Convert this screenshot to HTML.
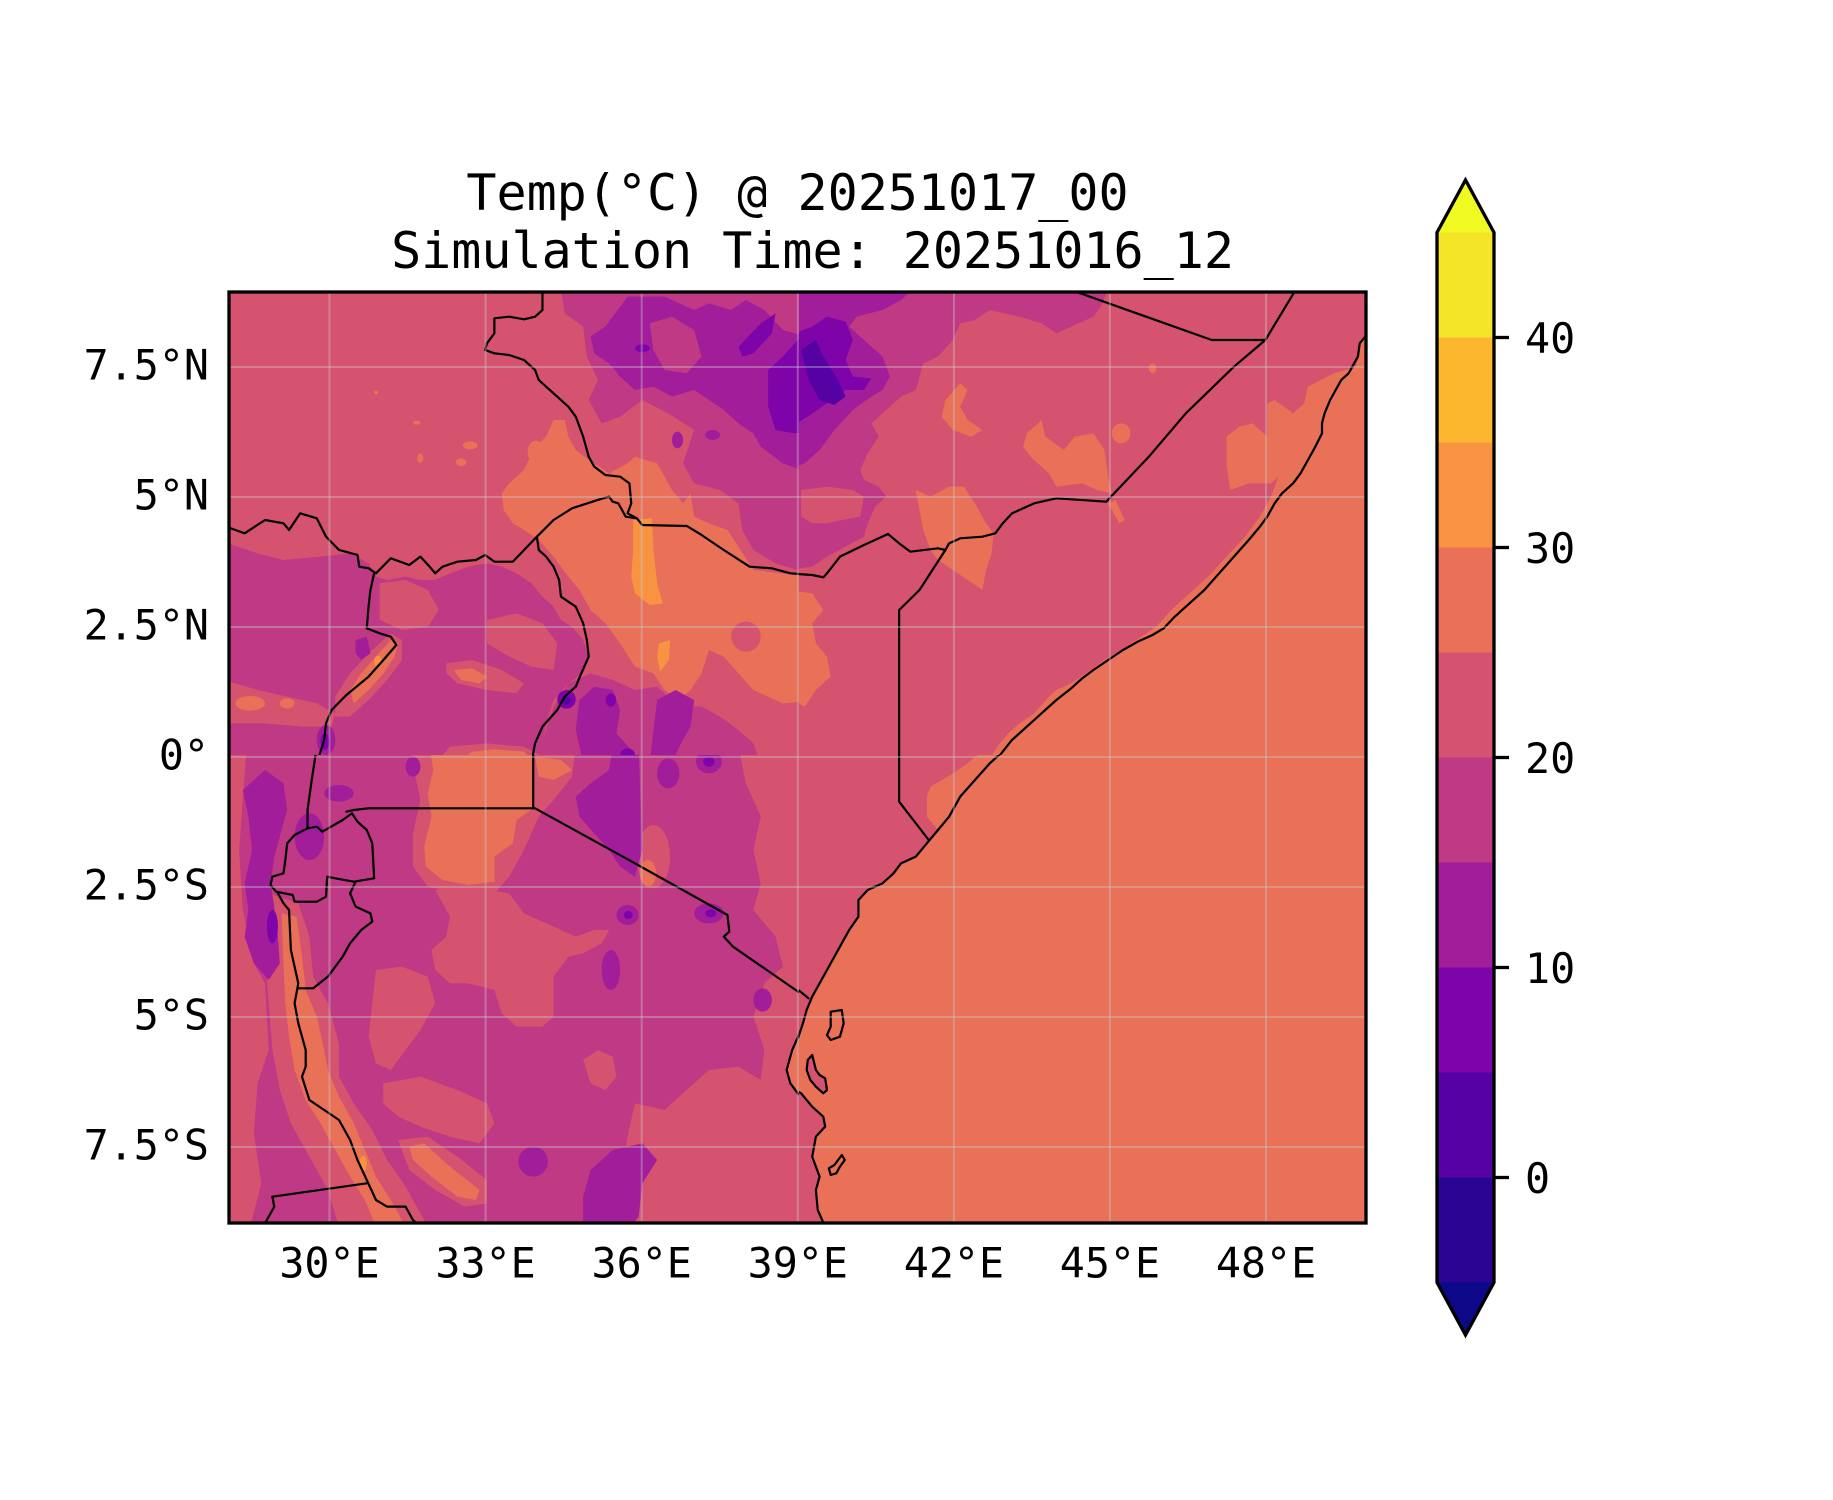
<!DOCTYPE html>
<html>
<head>
<meta charset="utf-8">
<style>
html,body{margin:0;padding:0;background:#fff;}
svg{display:block;}
.p{fill:#d5536f}.u{fill:#bf3984}.v{fill:#a21d9a}.w{fill:#7e03a8}.x{fill:#5601a4}.o{fill:#e97158}.y{fill:#f89441}
.ln{fill:none;stroke:#000;stroke-width:2.2;vector-effect:non-scaling-stroke;stroke-linejoin:round;stroke-linecap:round}
.t{font-family:"DejaVu Sans Mono","Liberation Mono",monospace;fill:#000}
</style>
</head>
<body>
<svg width="1833" height="1500" viewBox="0 0 1833 1500" xmlns="http://www.w3.org/2000/svg">
<defs>
<clipPath id="c1"><rect x="229" y="292" width="570" height="463"/></clipPath>
<clipPath id="c2"><rect x="799" y="292" width="567" height="463"/></clipPath>
<clipPath id="c3"><rect x="229" y="755" width="570" height="468"/></clipPath>
<clipPath id="c4"><rect x="799" y="755" width="567" height="468"/></clipPath>
</defs>

<!-- Q1 -->
<g clip-path="url(#c1)"><g transform="translate(228 290) scale(0.36996 0.33333)">
<rect class="p" x="-10" y="-10" width="1620" height="1440"/>
<path class="u" d="M900,0 L910,70 960,110 970,200 1000,270 975,330 1010,400 1060,380 1120,330 1190,370 1260,420 1230,520 1260,580 1330,600 1380,640 1390,720 1420,780 1480,820 1568,850 1600,850 1600,0Z"/>
<path class="v" d="M980,140 L1020,110 1060,50 1080,20 1180,20 1260,60 1300,40 1360,60 1400,30 1450,60 1500,120 1600,150 1600,560 1500,520 1440,470 1420,430 1380,400 1340,360 1300,330 1260,300 1200,320 1150,290 1100,300 1060,260 1030,220 990,190Z"/>
<path class="u" d="M1140,100 L1200,80 1260,120 1280,200 1240,250 1180,240 1150,180Z"/>
<path class="w" d="M1460,240 L1500,200 1540,150 1600,140 1600,420 1530,430 1480,420 1460,350Z"/>
<path class="w" d="M1380,170 L1440,100 1480,70 1470,130 1420,190 1390,200Z"/>
<ellipse class="w" cx="1120" cy="175" rx="20" ry="12"/>
<ellipse class="v" cx="1215" cy="450" rx="15" ry="25"/>
<ellipse class="v" cx="1310" cy="435" rx="20" ry="15"/>
<path class="o" d="M740,610 L760,580 800,540 830,470 860,440 880,390 910,390 920,440 940,480 990,520 1030,550 1080,520 1100,500 1160,520 1180,560 1200,600 1230,640 1250,610 1260,680 1300,700 1350,720 1420,840 1568,860 1600,860 1600,1230 1500,1240 1420,1200 1380,1150 1340,1100 1300,1080 1280,1150 1250,1200 1220,1230 1180,1200 1150,1150 1100,1130 1060,1060 1020,1000 980,960 950,900 920,860 880,800 840,750 800,720 770,700 745,660Z"/>
<ellipse class="p" cx="1400" cy="1040" rx="40" ry="45"/>
<path class="y" d="M1095,690 L1145,685 1150,780 1160,880 1175,940 1140,945 1100,910 1090,860 1095,780Z"/>
<path class="y" d="M1165,1060 L1195,1050 1192,1110 1168,1145 1160,1100Z"/>
<ellipse class="o" cx="400" cy="307" rx="6" ry="6"/>
<ellipse class="o" cx="510" cy="398" rx="10" ry="6"/>
<ellipse class="o" cx="655" cy="466" rx="20" ry="12"/>
<ellipse class="o" cx="520" cy="505" rx="8" ry="14"/>
<ellipse class="o" cx="630" cy="517" rx="14" ry="12"/>
<ellipse class="o" cx="832" cy="487" rx="22" ry="35"/>
<path class="u" d="M0,760 L80,790 150,810 250,800 330,790 380,820 400,860 430,870 480,860 520,870 560,870 600,850 650,830 700,820 740,830 780,850 820,880 850,920 880,950 900,990 930,1010 960,1050 975,1100 960,1150 920,1180 880,1230 860,1300 840,1420 -10,1420Z"/>
<path class="p" d="M410,880 L480,870 540,900 570,960 540,1010 470,1020 410,990Z"/>
<path class="p" d="M700,990 L780,970 850,1000 890,1060 880,1140 820,1130 760,1100 700,1060Z"/>
<path class="p" d="M590,1120 L660,1110 740,1140 800,1180 780,1210 700,1200 620,1180 590,1150Z"/>
<path class="o" d="M610,1140 L660,1135 700,1160 680,1180 630,1170Z"/>
<path class="p" d="M-10,1170 L80,1200 160,1220 240,1240 290,1270 280,1310 200,1310 100,1300 -10,1300Z"/>
<ellipse class="o" cx="60" cy="1240" rx="40" ry="22"/>
<ellipse class="o" cx="160" cy="1240" rx="20" ry="15"/>
<path class="p" d="M290,1220 L330,1150 380,1090 440,1030 470,1050 470,1110 430,1170 380,1230 330,1280 290,1280Z"/>
<path class="o" d="M330,1200 L360,1150 400,1100 440,1050 460,1060 450,1100 420,1150 380,1200 340,1240Z"/>
<ellipse class="y" cx="405" cy="1115" rx="10" ry="18"/>
<path class="v" d="M345,1050 L375,1040 385,1090 360,1110 345,1090Z"/>
<ellipse class="v" cx="265" cy="1350" rx="25" ry="45"/>
<ellipse class="w" cx="262" cy="1355" rx="12" ry="25"/>
<path class="u" d="M880,1250 L920,1180 980,1150 1040,1170 1100,1200 1160,1190 1220,1250 1280,1250 1330,1280 1380,1320 1420,1360 1440,1420 830,1420Z"/>
<path class="v" d="M950,1230 L990,1190 1040,1200 1060,1260 1050,1330 1090,1380 1100,1420 960,1420 940,1320Z"/>
<path class="v" d="M1160,1230 L1210,1200 1260,1230 1250,1310 1220,1370 1200,1420 1140,1420 1150,1320Z"/>
<ellipse class="w" cx="915" cy="1228" rx="25" ry="28"/>
<ellipse class="x" cx="915" cy="1232" rx="10" ry="12"/>
<ellipse class="w" cx="1035" cy="1230" rx="14" ry="20"/>
<ellipse class="w" cx="1080" cy="1395" rx="20" ry="20"/>
<path class="p" d="M560,1420 L600,1370 700,1360 800,1370 850,1400 850,1420Z"/>
<path class="o" d="M620,1420 L660,1385 720,1378 800,1385 830,1420Z"/>
<path class="ln" d="M850,0 L850,60 830,80 800,88 760,80 720,85 720,130 700,160 695,180 720,190 760,195 800,210 830,240 840,270 860,290 890,320 920,350 940,380 960,440 975,500 990,530 1020,555 1060,560 1085,580 1090,640 1080,670 1105,685 1120,705 1240,708 1280,735 1340,780 1410,830 1470,835 1520,850 1600,856"/>
<path class="ln" d="M835,740 L880,690 930,655 1005,628 1030,620 1040,635 1055,640 1075,680 1105,685"/>
<path class="ln" d="M-10,708 L20,720 45,730 100,690 150,700 165,720 195,670 240,685 265,740 300,780 350,795 355,830 380,835 400,850 440,805 490,825 520,800 545,830 560,850 580,830 620,815 670,810 695,795 720,815 770,815 835,740"/>
<path class="ln" d="M395,850 L385,900 380,950 375,1015 410,1030 440,1040 455,1065 420,1110 380,1160 320,1215 280,1260 265,1300 260,1350 240,1420"/>
<path class="ln" d="M835,740 L840,780 860,800 880,830 895,870 900,920 940,950 960,1000 970,1050 975,1100 955,1150 940,1190 910,1220 890,1260 850,1310 830,1360 820,1420"/>
</g></g>

<!-- Q2 -->
<g clip-path="url(#c2)"><g transform="translate(790 290) scale(0.36996 0.33333)">
<rect class="p" x="-10" y="-10" width="1620" height="1440"/>
<path class="u" d="M-10,0 L860,0 840,50 820,80 780,100 720,130 680,100 620,80 580,70 540,60 500,90 460,100 440,150 400,200 360,220 350,260 340,300 300,320 260,360 220,400 240,440 210,490 190,540 200,570 240,590 260,620 230,650 210,700 200,740 150,770 100,800 60,830 -10,840Z"/>
<path class="p" d="M30,600 L100,590 170,600 200,620 190,680 140,690 100,700 60,700 30,680Z"/>
<path class="v" d="M-10,0 L330,0 300,30 250,60 180,80 160,110 200,150 250,200 270,260 250,300 220,320 170,360 120,420 80,480 40,520 -10,540Z"/>
<path class="w" d="M-10,140 L60,110 100,80 150,95 170,150 150,210 170,260 220,265 200,300 150,300 100,340 60,370 20,400 -10,400Z"/>
<path class="x" d="M30,180 L70,150 90,200 130,270 150,320 120,345 80,330 50,270Z"/>
<path class="o" d="M420,330 L460,280 480,300 460,350 480,390 520,420 490,440 440,420 410,380Z"/>
<path class="o" d="M640,430 L680,390 690,440 740,480 770,440 820,430 850,480 860,560 870,610 830,600 790,580 720,590 700,550 650,500 630,470Z"/>
<ellipse class="o" cx="895" cy="430" rx="25" ry="30"/>
<ellipse class="o" cx="980" cy="235" rx="10" ry="15"/>
<path class="o" d="M340,600 L380,620 430,590 470,590 500,640 530,700 550,730 545,790 530,840 520,900 480,870 440,840 400,810 380,780 360,720 350,660Z"/>
<path class="o" d="M-10,900 L60,910 90,960 60,1000 70,1060 100,1100 110,1160 70,1200 40,1250 -10,1220Z"/>
<path class="o" d="M860,640 L880,630 905,690 890,700Z"/>
<path class="o" d="M1600,125 L1600,1420 L535,1420 560,1370 590,1330 620,1300 660,1270 700,1220 720,1200 760,1180 800,1150 850,1110 880,1090 950,1040 990,1010 1030,960 1080,910 1130,860 1180,800 1230,740 1270,680 1300,620 1320,560 1300,580 1240,580 1190,600 1180,520 1180,440 1215,410 1250,400 1290,440 1290,340 1310,330 1360,370 1390,340 1400,290 1470,250 1530,230 1545,150 1560,130Z"/>
<path class="ln" d="M1600,110 L1555,140 1540,160 1535,200 1525,220 1510,250 1490,270 1475,300 1460,330 1445,370 1438,400 1438,430 1420,470 1400,510 1380,550 1360,580 1330,610 1310,640 1290,680 1270,710 1240,750 1200,800 1160,850 1120,900 1080,940 1040,980 1010,1015 980,1035 940,1055 900,1080 860,1110 820,1140 790,1165 760,1195 720,1230 680,1270 640,1310 600,1350 550,1420"/>
<path class="ln" d="M-10,850 L60,855 90,862 100,850 135,800 200,765 265,732 295,760 325,785 400,775 420,780"/>
<path class="ln" d="M420,780 L430,760 460,745 520,740 555,730 575,700 600,670 660,640 720,625 855,635 970,500 1070,370 1200,230 1285,150 1372,-10"/>
<path class="ln" d="M735,-10 L760,0 1140,150 1285,150"/>
<path class="ln" d="M420,780 L350,900 295,960 295,1420"/>
</g></g>

<!-- Q3 -->
<g clip-path="url(#c3)"><g transform="translate(228 750) scale(0.36996 0.33333)">
<rect class="u" x="-10" y="-10" width="1620" height="1450"/>
<path class="p" d="M-10,0 L50,0 40,150 30,300 40,480 70,640 100,700 110,900 80,1000 70,1150 90,1300 60,1430 -10,1430Z"/>
<path class="p" d="M110,430 L190,460 220,560 230,680 270,760 300,880 300,980 340,1060 390,1140 430,1230 480,1310 540,1430 300,1430 270,1320 220,1220 170,1120 140,1020 120,900 110,760 100,600Z"/>
<path class="p" d="M400,660 L470,650 540,680 560,760 520,840 480,900 440,960 400,940 380,860 390,760Z"/>
<path class="p" d="M560,420 L650,410 760,430 800,490 880,530 940,560 990,540 1030,540 1010,580 960,610 920,620 880,680 880,800 850,830 780,830 740,790 720,720 650,700 600,700 560,660 550,600 590,560 600,500Z"/>
<path class="p" d="M490,-10 L940,-10 930,80 880,150 840,200 800,300 760,380 720,430 620,430 540,410 500,350 500,250 520,150Z"/>
<path class="o" d="M545,-10 L825,-10 825,175 780,210 770,280 720,320 720,395 650,405 580,390 535,350 530,290 550,200 540,130 555,60Z"/>
<path class="o" d="M830,20 L900,30 930,60 880,90 840,80Z"/>
<path class="p" d="M420,1000 L520,980 620,1020 700,1060 720,1120 680,1180 600,1160 520,1130 460,1100 420,1060Z"/>
<path class="p" d="M460,1170 L540,1160 620,1220 700,1290 700,1360 640,1370 560,1320 490,1260Z"/>
<path class="o" d="M490,1190 L530,1180 600,1250 680,1320 670,1350 620,1340 550,1280 500,1230Z"/>
<path class="p" d="M960,930 L1000,900 1040,920 1050,980 1020,1020 980,1000Z"/>
<ellipse class="p" cx="1150" cy="320" rx="45" ry="95"/>
<ellipse class="o" cx="1135" cy="370" rx="22" ry="40"/>
<path class="p" d="M1080,1160 L1100,1060 1180,1080 1250,1010 1300,960 1380,950 1440,990 1500,1040 1620,1040 1620,1430 1080,1430 1060,1300Z"/>
<path class="p" d="M1380,-10 L1620,-10 1620,1040 1500,1040 1440,990 1450,900 1420,800 1450,700 1500,650 1480,560 1420,480 1440,400 1420,300 1440,200 1400,100Z"/>
<path class="o" d="M145,490 L185,500 200,620 210,720 240,800 260,900 270,960 300,1040 340,1120 370,1200 400,1280 440,1350 480,1430 400,1430 370,1350 330,1280 290,1200 250,1120 210,1050 180,960 165,860 155,760 150,650Z"/>
<ellipse class="y" cx="365" cy="1240" rx="10" ry="22"/>
<path class="v" d="M40,120 L100,60 150,100 160,180 140,260 125,320 115,400 125,470 135,560 140,640 110,690 70,640 45,560 55,480 45,400 65,300 55,200Z"/>
<ellipse class="w" cx="120" cy="530" rx="15" ry="50"/>
<ellipse class="v" cx="220" cy="260" rx="40" ry="70"/>
<ellipse class="v" cx="300" cy="130" rx="40" ry="25"/>
<ellipse class="v" cx="500" cy="50" rx="20" ry="30"/>
<path class="v" d="M1040,-10 L1110,-10 1115,150 1120,300 1100,380 1060,350 1030,300 990,250 950,200 940,140 980,100 1030,60Z"/>
<ellipse class="v" cx="1190" cy="70" rx="30" ry="45"/>
<ellipse class="v" cx="1300" cy="35" rx="35" ry="35"/>
<ellipse class="w" cx="1300" cy="35" rx="15" ry="15"/>
<ellipse class="v" cx="1080" cy="495" rx="30" ry="30"/>
<ellipse class="w" cx="1082" cy="495" rx="12" ry="12"/>
<ellipse class="v" cx="1300" cy="490" rx="40" ry="30"/>
<ellipse class="w" cx="1305" cy="490" rx="15" ry="12"/>
<ellipse class="v" cx="1035" cy="660" rx="25" ry="60"/>
<ellipse class="v" cx="1445" cy="750" rx="25" ry="35"/>
<ellipse class="v" cx="825" cy="1235" rx="40" ry="45"/>
<path class="v" d="M980,1260 L1040,1200 1120,1180 1160,1230 1120,1300 1110,1400 1090,1430 960,1430 960,1340Z"/>
<path class="o" d="M1568,760 L1555,790 1545,850 1525,900 1510,960 1520,1000 1540,1030 1568,1050 1620,1050 1620,760Z"/>
<path class="ln" d="M1575,750 L1568,760 1555,790 1545,850 1525,900 1510,960 1520,1000 1540,1030 1575,1055"/>
<path class="ln" d="M240,-10 L225,100 215,180 215,235"/>
<path class="ln" d="M320,185 L340,180 380,175 825,175 825,-10"/>
<path class="ln" d="M825,175 L830,175 1100,340 1350,495 1355,545 1340,560 1365,590 1580,755"/>
<path class="ln" d="M215,235 L240,230 255,245 310,210 335,190 350,215 375,240 390,280 395,385 340,395 290,385 268,380 265,440 240,455 180,455 175,435 130,425 115,405 120,380 150,370 155,330 160,280 180,255Z"/>
<path class="ln" d="M345,395 L330,430 345,470 385,490 390,515 360,540 330,580 310,620 270,680 230,715 190,715"/>
<path class="ln" d="M135,430 L150,460 165,480 170,600 190,700 180,760 190,820 210,900 210,950 200,980 220,1050 260,1080 300,1110 330,1170 350,1230 375,1290 400,1350 430,1370 480,1370 500,1410 520,1430"/>
<path class="ln" d="M120,1340 L375,1300"/>
<path class="ln" d="M120,1340 L125,1370 95,1430"/>
</g></g>

<!-- Q4 -->
<g clip-path="url(#c4)"><g transform="translate(790 750) scale(0.36996 0.33333)">
<rect class="p" x="-10" y="-10" width="1620" height="1450"/>
<path class="o" d="M600,-10 L1620,-10 1620,1430 L95,1430 75,1380 70,1320 80,1280 60,1220 70,1160 95,1130 90,1100 60,1070 30,1030 -10,1010 L-10,910 20,870 35,820 45,780 60,740 80,700 100,660 120,620 140,580 160,540 185,500 185,450 210,420 250,400 280,370 300,340 340,320 370,280 400,240 430,200 460,140 500,90 540,40 580,0Z"/>
<path class="o" d="M370,140 L380,110 410,90 440,70 480,40 500,20 540,0 600,0 460,150 430,200 400,240 370,200Z"/>
<path class="ln" d="M590,-10 L580,0 540,40 500,90 460,140 430,200 400,240 370,280 340,320 300,340 280,370 250,400 210,420 185,450 185,500 160,540 140,580 120,620 100,660 80,700 60,740 45,780 35,820 20,870 -10,915"/>
<path class="ln" d="M-10,1005 L30,1030 60,1070 90,1100 95,1130 70,1160 60,1220 80,1280 70,1320 75,1380 95,1430"/>
<path class="p" d="M60,915 L70,960 80,975 95,985 100,1020 90,1030 70,1010 55,990 45,960 48,930Z"/>
<path class="ln" d="M60,915 L70,960 80,975 95,985 100,1020 90,1030 70,1010 55,990 45,960 48,930Z"/>
<path class="ln" d="M110,785 L140,780 145,820 135,860 110,870 100,855 110,830Z"/>
<path class="ln" d="M140,1215 L148,1230 135,1250 125,1270 110,1275 105,1255 120,1245Z"/>
<path class="ln" d="M295,-10 L295,155 375,270"/>
<path class="ln" d="M-10,690 L50,745"/>
</g></g>

<!-- gridlines -->
<g stroke="#c8c8c8" stroke-opacity="0.4" stroke-width="2" fill="none">
<line x1="329.5" y1="292" x2="329.5" y2="1223"/>
<line x1="485.6" y1="292" x2="485.6" y2="1223"/>
<line x1="641.7" y1="292" x2="641.7" y2="1223"/>
<line x1="797.8" y1="292" x2="797.8" y2="1223"/>
<line x1="953.9" y1="292" x2="953.9" y2="1223"/>
<line x1="1109.9" y1="292" x2="1109.9" y2="1223"/>
<line x1="1266" y1="292" x2="1266" y2="1223"/>
<line x1="229" y1="367" x2="1366" y2="367"/>
<line x1="229" y1="497" x2="1366" y2="497"/>
<line x1="229" y1="627" x2="1366" y2="627"/>
<line x1="229" y1="757" x2="1366" y2="757"/>
<line x1="229" y1="887" x2="1366" y2="887"/>
<line x1="229" y1="1017" x2="1366" y2="1017"/>
<line x1="229" y1="1147" x2="1366" y2="1147"/>
</g>

<rect x="229" y="292" width="1137" height="931" fill="none" stroke="#000" stroke-width="3.3"/>

<!-- title -->
<text class="t" x="797.5" y="210" font-size="50" text-anchor="middle">Temp(°C) @ 20251017_00</text>
<text class="t" x="812.5" y="268" font-size="50" text-anchor="middle">Simulation Time: 20251016_12</text>

<!-- lat labels -->
<g class="t" font-size="41.67" text-anchor="end">
<text x="209" y="379.3">7.5°N</text>
<text x="209" y="509.3">5°N</text>
<text x="209" y="639.3">2.5°N</text>
<text x="209" y="769.3">0°</text>
<text x="209" y="899.3">2.5°S</text>
<text x="209" y="1029.3">5°S</text>
<text x="209" y="1159.3">7.5°S</text>
</g>
<!-- lon labels -->
<g class="t" font-size="41.67" text-anchor="middle">
<text x="329.5" y="1277.5">30°E</text>
<text x="485.6" y="1277.5">33°E</text>
<text x="641.7" y="1277.5">36°E</text>
<text x="797.8" y="1277.5">39°E</text>
<text x="953.9" y="1277.5">42°E</text>
<text x="1109.9" y="1277.5">45°E</text>
<text x="1266" y="1277.5">48°E</text>
</g>

<!-- colorbar -->
<polygon points="1437,232.5 1465.5,180 1494,232.5" fill="#f0f921"/>
<rect x="1437" y="232.5" width="57" height="105.5" fill="#f5e528"/>
<rect x="1437" y="337.5" width="57" height="105.5" fill="#fdb72f"/>
<rect x="1437" y="442.5" width="57" height="105.5" fill="#f89441"/>
<rect x="1437" y="547.5" width="57" height="105.5" fill="#e97158"/>
<rect x="1437" y="652.5" width="57" height="105.5" fill="#d5536f"/>
<rect x="1437" y="757.5" width="57" height="105.5" fill="#bf3984"/>
<rect x="1437" y="862.5" width="57" height="105.5" fill="#a21d9a"/>
<rect x="1437" y="967.5" width="57" height="105.5" fill="#7e03a8"/>
<rect x="1437" y="1072.5" width="57" height="105.5" fill="#5601a4"/>
<rect x="1437" y="1177.5" width="57" height="105" fill="#2a0593"/>
<polygon points="1437,1282.5 1465.5,1335 1494,1282.5" fill="#0d0887"/>
<path d="M1437,232.5 L1465.5,180 L1494,232.5 L1494,1282.5 L1465.5,1335 L1437,1282.5 Z" fill="none" stroke="#000" stroke-width="3.3" stroke-linejoin="miter"/>
<g stroke="#000" stroke-width="3.3">
<line x1="1494" y1="337.5" x2="1509" y2="337.5"/>
<line x1="1494" y1="547.5" x2="1509" y2="547.5"/>
<line x1="1494" y1="757.5" x2="1509" y2="757.5"/>
<line x1="1494" y1="967.5" x2="1509" y2="967.5"/>
<line x1="1494" y1="1177.5" x2="1509" y2="1177.5"/>
</g>
<g class="t" font-size="41.67">
<text x="1525" y="353">40</text>
<text x="1525" y="563">30</text>
<text x="1525" y="773">20</text>
<text x="1525" y="983">10</text>
<text x="1525" y="1193">0</text>
</g>
</svg>
</body>
</html>
